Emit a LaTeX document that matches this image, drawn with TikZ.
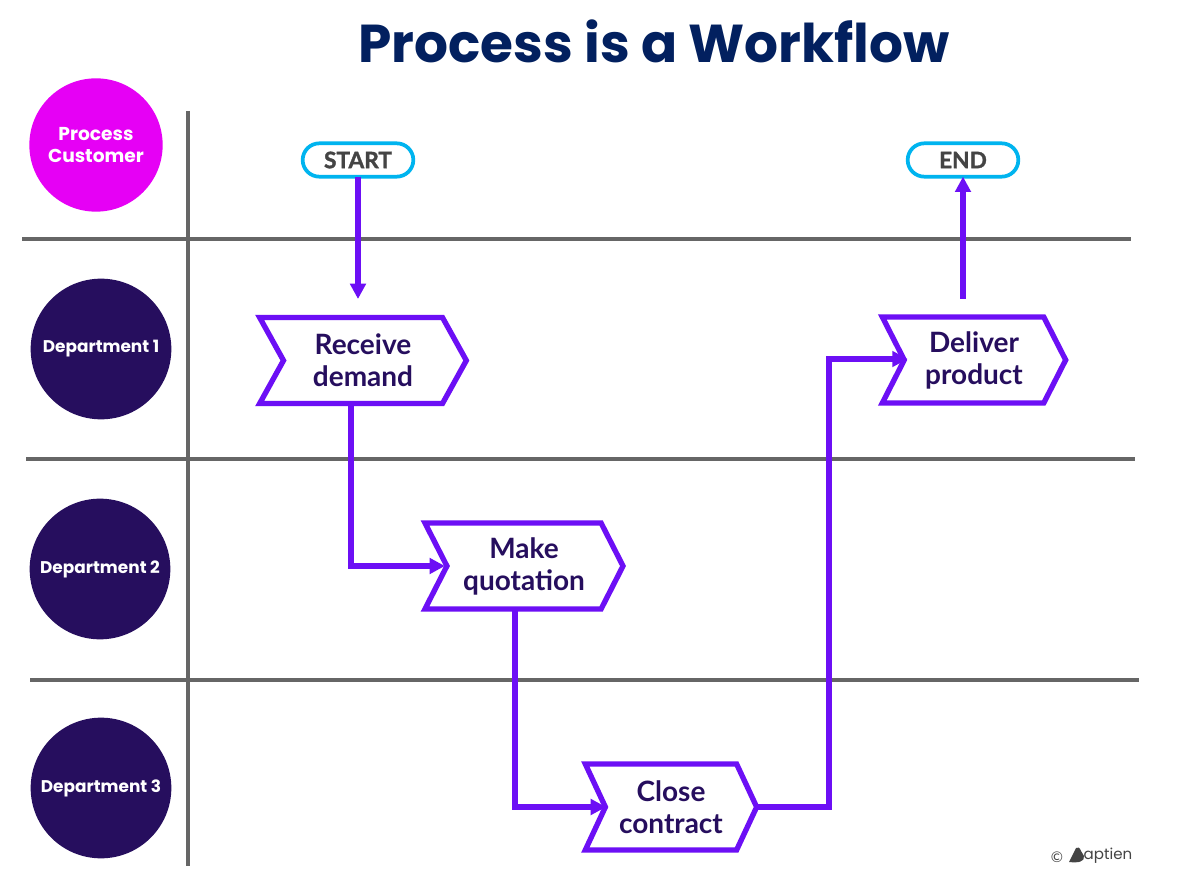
\documentclass[tikz,border=0pt]{standalone}
\usepackage{fontspec}
\setmainfont{Lato}
\newfontfamily\headfont{Poppins}
\newfontfamily\heavyfont{Lato}[BoldFeatures={FakeBold=1.5}]
\usetikzlibrary{shapes.symbols,shapes.misc,arrows.meta}
\definecolor{navy}{HTML}{02205F}
\definecolor{rule}{HTML}{666666}
\definecolor{violet}{HTML}{6C0FF5}
\definecolor{deep}{HTML}{260E5E}
\definecolor{magenta}{HTML}{E600F5}
\definecolor{cyanline}{HTML}{00B4EF}
\definecolor{inkgray}{HTML}{444444}
\tikzset{
  x=0.75pt, y=-0.75pt,
  lane/.style={draw=rule, line width=2.3pt},
  role/.style={circle, inner sep=0pt, outer sep=0pt, text=white, align=center,
    font=\headfont\bfseries\fontsize{12.7}{16.5}\selectfont},
  dept/.style={role, fill=deep, minimum size=105.5pt},
  terminal/.style={rounded rectangle, draw=cyanline, line width=2.8pt, fill=white,
    minimum width=83pt, minimum height=25pt, inner sep=0pt, outer sep=0pt, text=inkgray,
    font=\heavyfont\bfseries\fontsize{17}{17}\selectfont},
  stage/.style={signal, signal from=west, signal to=east, signal pointer angle=122,
    draw=violet, line width=4pt, fill=white, text=deep, align=center,
    minimum height=64.5pt, inner sep=0pt, outer sep=0pt,
    font=\bfseries\fontsize{21}{24}\selectfont},
  flow/.style={draw=violet, line width=3.8pt},
  arrowflow/.style={flow, -{Triangle[length=11.5pt,width=11.5pt]}},
}
\begin{document}
\begin{tikzpicture}
\useasboundingbox[fill=white] (0,0) rectangle (1200,877);

% title
\node[text=navy, font=\headfont\bfseries\fontsize{40}{48}\selectfont] (title) at (654,41) {Process is a Workflow};

% swimlane rules
\coordinate (h1a) at (22,239);  \coordinate (h1b) at (1131,239);
\coordinate (h2a) at (26,459);  \coordinate (h2b) at (1135,459);
\coordinate (h3a) at (30,680);  \coordinate (h3b) at (1139,680);
\coordinate (va) at (188,111);  \coordinate (vb) at (188,866);
\draw[lane] (h1a) -- (h1b);
\draw[lane] (h2a) -- (h2b);
\draw[lane] (h3a) -- (h3b);
\draw[lane] (va) -- (vb);

% lane owners
\node[role, fill=magenta, minimum size=100pt,
      font=\headfont\bfseries\fontsize{14}{16.5}\selectfont] (customer) at (96,145) {Process\\Customer};
\node[dept] (d1) at (101,349) {Department 1};
\node[dept] (d2) at (100,569) {Department 2};
\node[dept] (d3) at (101,788) {Department 3};

% process stages
\node[stage, minimum width=155pt] (receive) at (363,360.5) {Receive\\demand};
\node[stage, minimum width=148.5pt, signal pointer angle=126] (make) at (524,566) {Make\\quotation};
\node[stage, minimum width=128.5pt, signal pointer angle=130] (close) at (671,807) {Close\\contract};
\node[stage, minimum width=137.5pt, signal pointer angle=126] (deliver) at (974,360) {Deliver\\product};

% terminals
\node[terminal] (start) at (358,160) {START};
\node[terminal] (end)   at (963,160) {END};

% connectors
\coordinate (startfree) at (358,299);
\coordinate (deliverfree) at (963,299);
\draw[arrowflow] (start.south) -- (startfree);
\draw[arrowflow] (deliverfree) -- (end.south);
\draw[arrowflow] (receive.south -| 351,0) |- ([xshift=-1.5pt]make.west);
\draw[arrowflow] (make.south -| 515,0) |- ([xshift=0.5pt]close.west);
\draw[arrowflow] (close.east) -| (829,359) -- ([xshift=2.5pt]deliver.west |- 0,359);

% footer mark
\node[text=inkgray, font=\fontsize{11}{12}\selectfont, inner sep=0pt] (copy) at (1057,857) {©};
\fill[inkgray] (1069,862) -- (1076,848) .. controls (1078,846) and (1080,848) .. (1081,851) -- (1084,856)
  .. controls (1085,862) and (1078,863) .. (1069,862) -- cycle;
\node[text=inkgray, font=\headfont\fontsize{11.3}{12}\selectfont, inner sep=0pt] (brand) at (1108,856) {aptien};
\end{tikzpicture}
\end{document}
